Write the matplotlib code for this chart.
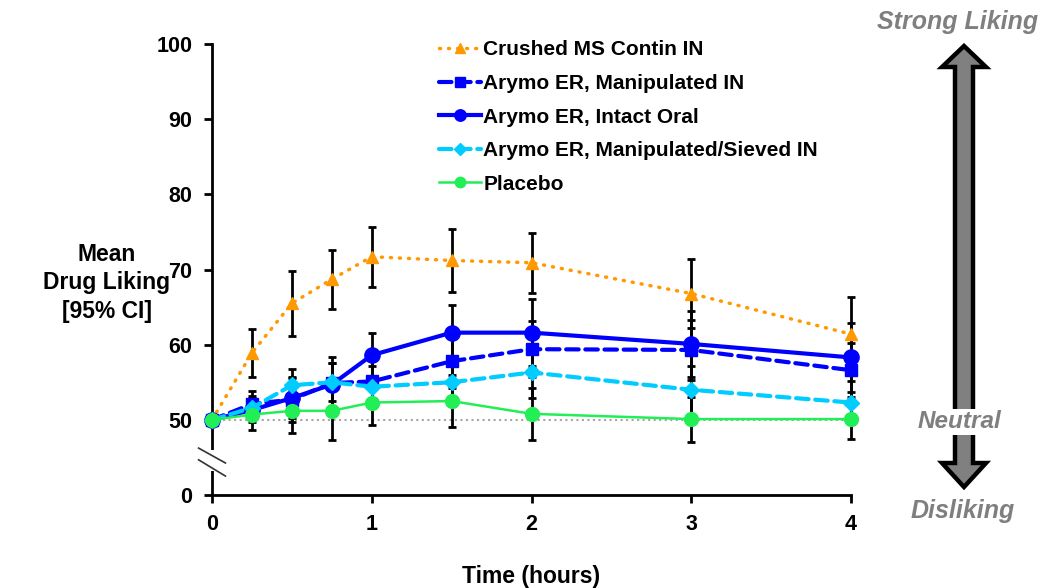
import numpy as np
import matplotlib
matplotlib.use('Agg')
import matplotlib.pyplot as plt
from matplotlib.patches import Polygon

plt.rcParams['font.family'] = ['Liberation Sans', 'DejaVu Sans']
plt.rcParams['font.weight'] = 'bold'

# time points (hours)
hours = [0, 0.25, 0.5, 0.75, 1, 1.5, 2, 3, 4]

# mean drug liking and 95% CI half widths
ms_contin = [50, 58.9, 65.5, 68.7, 71.7, 71.2, 70.9, 66.8, 61.4]
ms_contin_ci = [0, 3.2, 4.3, 3.9, 4.0, 4.2, 4.0, 4.6, 5.0]
arymo_manip = [50, 52.1, 52.7, 54.9, 55.1, 57.8, 59.4, 59.3, 56.6]
arymo_manip_ci = [0, 1.8, 3.0, 3.4, 3.5, 3.6, 3.7, 4.0, 3.6]
arymo_oral = [50, 51.3, 52.9, 54.7, 58.6, 61.6, 61.6, 60.1, 58.3]
arymo_oral_ci = [0, 1.6, 2.6, 2.8, 3.0, 3.7, 4.5, 4.4, 4.6]
arymo_sieved = [50, 51.6, 54.6, 55.0, 54.4, 55.0, 56.3, 54.0, 52.3]
arymo_sieved_ci = [0, 1.6, 2.1, 2.5, 2.8, 3.2, 3.4, 3.2, 2.8]
placebo = [50, 50.7, 51.2, 51.2, 52.3, 52.5, 50.8, 50.1, 50.1]
placebo_ci = [0, 2.0, 2.9, 3.9, 3.0, 3.4, 3.5, 3.0, 2.6]

labels = ['Crushed MS Contin IN', 'Arymo ER, Manipulated IN', 'Arymo ER, Intact Oral',
          'Arymo ER, Manipulated/Sieved IN', 'Placebo']
x_ticks = [0, 1, 2, 3, 4]
# the axis really runs 40-100, the bottom tick is labelled 0 (broken axis)
y_ticks = [40, 50, 60, 70, 80, 90, 100]
y_tick_labels = ['0', '50', '60', '70', '80', '90', '100']

fig = plt.figure(figsize=(10.43, 5.88), dpi=100)
ax = fig.add_axes([212 / 1043, 1 - 495 / 588, (851 - 212) / 1043, (495 - 44) / 588])
ax.set_xlim(0, 4)
ax.set_ylim(40, 100)

ax.axhline(50, color='#a6a6a6', ls=':', lw=1.5, zorder=1)

series = [
    (ms_contin, ms_contin_ci, dict(color='#ff9900', ls=(0, (0.3, 2.3)), lw=2.5, marker='^', ms=9)),
    (arymo_manip, arymo_manip_ci, dict(color='#0000ff', ls=(0, (3, 1.6)), lw=3, marker='s', ms=9)),
    (arymo_oral, arymo_oral_ci, dict(color='#0000ff', ls='-', lw=3, marker='o', ms=11)),
    (arymo_sieved, arymo_sieved_ci, dict(color='#00ccff', ls=(0, (3, 1.6)), lw=3, marker='D', ms=8)),
    (placebo, placebo_ci, dict(color='#22ee55', ls='-', lw=1.8, marker='o', ms=10)),
]

handles = []
for vals, ci, st in series:
    ax.errorbar(hours[1:], vals[1:], yerr=ci[1:], fmt='none', ecolor='black',
                elinewidth=2, capsize=3, capthick=2, zorder=2, clip_on=False)
for vals, ci, st in series:
    h, = ax.plot(hours, vals, mec=st['color'], mfc=st['color'], clip_on=False, zorder=3,
                 dash_capstyle='round', **st)
    handles.append(h)

for s in ['top', 'right']:
    ax.spines[s].set_visible(False)
for s in ['left', 'bottom']:
    ax.spines[s].set_linewidth(2)

ax.set_xticks(x_ticks)
ax.set_yticks(y_ticks)
ax.set_yticklabels(y_tick_labels)
ax.tick_params(axis='both', direction='out', length=6, width=2, labelsize=15.5, pad=8)
for t in ax.get_xticklabels() + ax.get_yticklabels():
    t.set_fontweight('bold')

# axis break marks
ax.plot([0, 0], [0.062, 0.093], color='white', lw=5, transform=ax.transAxes, clip_on=False, zorder=4)
ax.plot([-0.021, 0.021], [0.104, 0.071], color='#333333', lw=1.2, transform=ax.transAxes, clip_on=False, zorder=5)
ax.plot([-0.021, 0.021], [0.078, 0.042], color='#333333', lw=1.2, transform=ax.transAxes, clip_on=False, zorder=5)

fig.text(107 / 1043, 1 - 283 / 588, 'Mean\nDrug Liking\n[95% CI]', ha='center', va='center',
         fontsize=16.5, fontweight='bold', linespacing=1.3)
fig.text(531 / 1043, 1 - 576 / 588, 'Time (hours)', ha='center', va='center',
         fontsize=16.5, fontweight='bold')

leg = fig.legend(handles, labels, loc='upper left', bbox_to_anchor=(429 / 1043, 1 - 30 / 588),
                 bbox_transform=fig.transFigure, frameon=False, fontsize=15, markerscale=0.75,
                 handlelength=2.0, handletextpad=0.1, labelspacing=0.7, borderpad=0)
for t in leg.get_texts():
    t.set_fontweight('bold')

# liking scale arrow on the right
cx = 964
pts_px = [(cx, 46), (cx + 22, 67), (cx + 9, 67), (cx + 9, 463), (cx + 22, 463), (cx, 487),
          (cx - 22, 463), (cx - 9, 463), (cx - 9, 67), (cx - 22, 67)]
pts = [(px / 1043, 1 - py / 588) for px, py in pts_px]
fig.patches.append(Polygon(pts, closed=True, facecolor='#808080', edgecolor='black', lw=3.2,
                           joinstyle='miter', transform=fig.transFigure, figure=fig))

grey = '#7f7f7f'
fig.text(958 / 1043, 1 - 22 / 588, 'Strong Liking', ha='center', va='center', fontsize=18,
         fontweight='bold', style='italic', color=grey)
fig.text(959 / 1043, 1 - 422 / 588, 'Neutral', ha='center', va='center', fontsize=17.5,
         fontweight='bold', style='italic', color=grey,
         bbox=dict(facecolor='white', edgecolor='none', pad=1))
fig.text(963 / 1043, 1 - 511 / 588, 'Disliking', ha='center', va='center', fontsize=18,
         fontweight='bold', style='italic', color=grey)

fig.savefig('out.png', dpi=100)
